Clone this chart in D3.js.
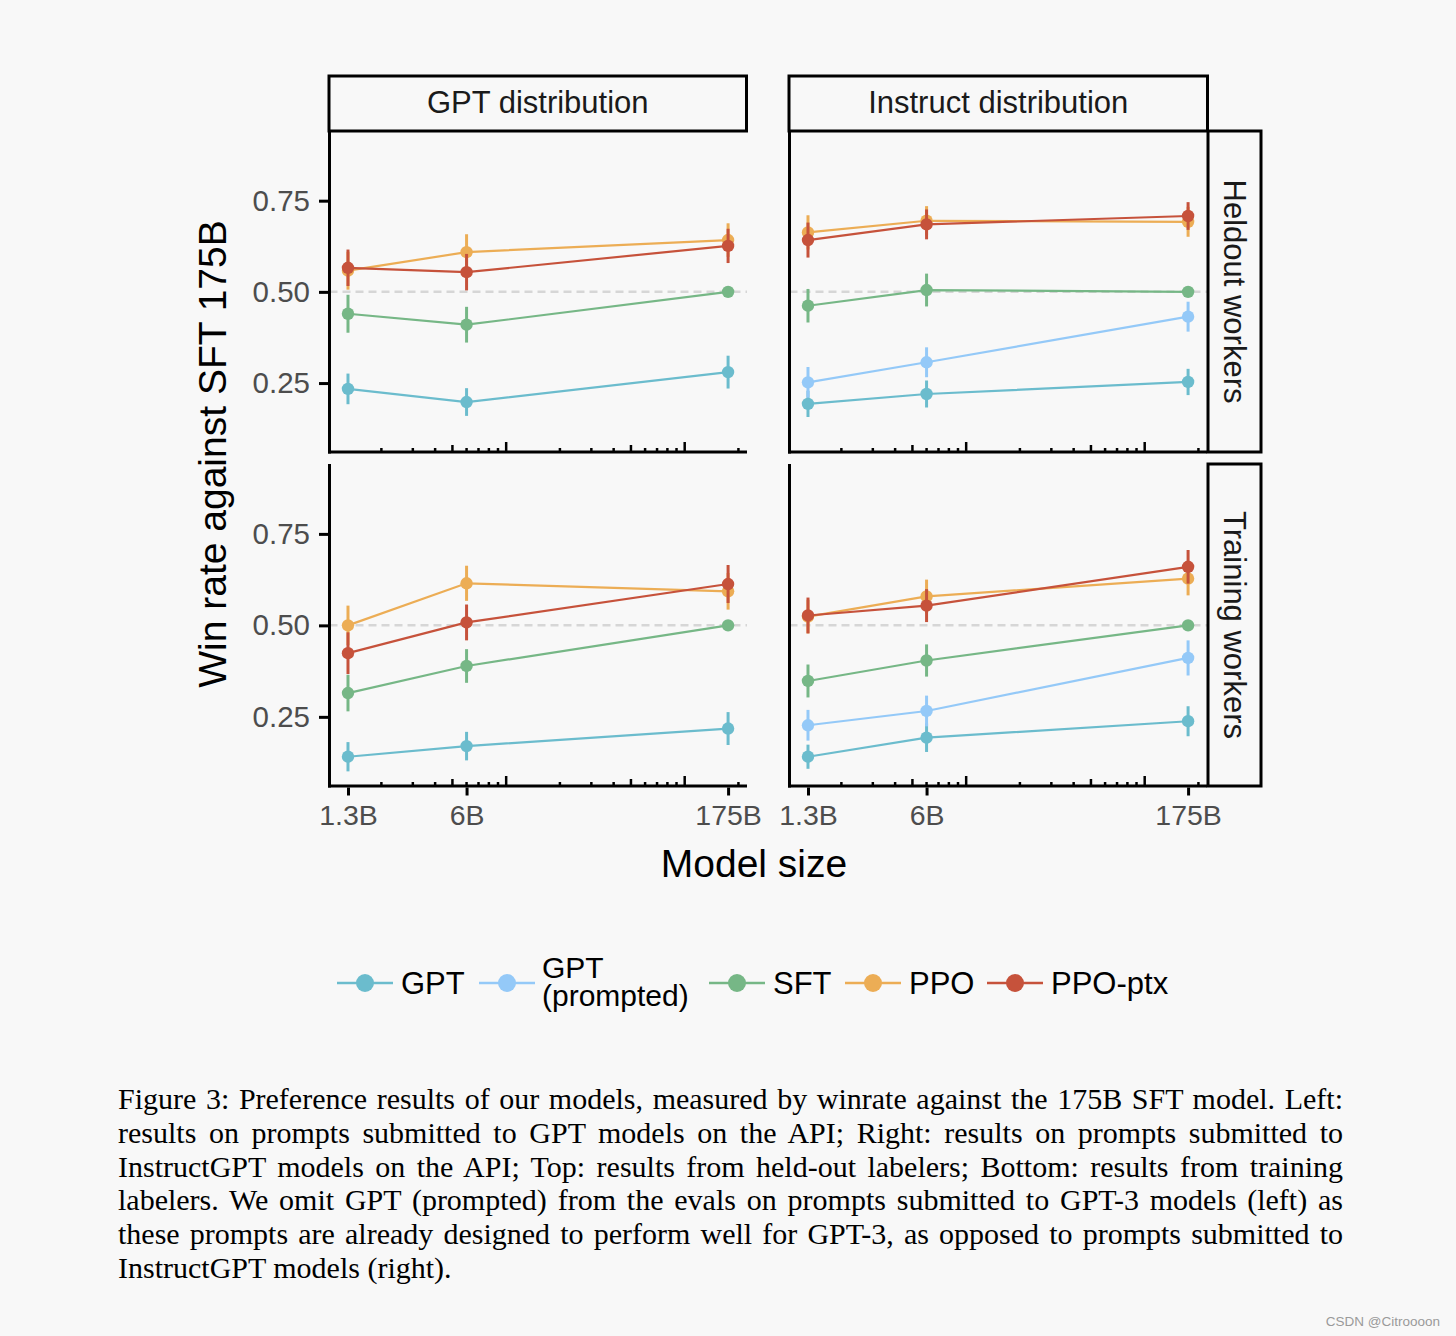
<!DOCTYPE html>
<html><head><meta charset="utf-8">
<script src="https://cdn.jsdelivr.net/npm/d3@7"></script>
<style>html,body{margin:0;padding:0;background:#f8f8f8;}svg{display:block;}</style>
</head><body>
<svg id="chart" width="1456" height="1336"></svg>
<script>
// ---------- data ----------
const sizes = [1.3e9, 6e9, 175e9];
const sizeLabels = ["1.3B", "6B", "175B"];
const models = ["GPT", "GPT (prompted)", "SFT", "PPO", "PPO-ptx"];
const columns = ["GPT distribution", "Instruct distribution"];
const rows = ["Heldout workers", "Training workers"];
const yTicks = [0.25, 0.5, 0.75];

// GPT distribution / Heldout workers
const gptHeld_GPT = [0.234, 0.198, 0.280], gptHeld_GPT_err = [0.042, 0.038, 0.045];
const gptHeld_SFT = [0.440, 0.410, 0.500], gptHeld_SFT_err = [0.052, 0.049, 0];
const gptHeld_PPO = [0.558, 0.609, 0.642], gptHeld_PPO_err = [0.052, 0.049, 0.046];
const gptHeld_PTX = [0.566, 0.554, 0.626], gptHeld_PTX_err = [0.050, 0.050, 0.047];
// Instruct distribution / Heldout workers
const insHeld_GPT = [0.193, 0.220, 0.253], insHeld_GPT_err = [0.036, 0.037, 0.036];
const insHeld_GPTP = [0.252, 0.307, 0.432], insHeld_GPTP_err = [0.042, 0.041, 0.041];
const insHeld_SFT = [0.462, 0.505, 0.500], insHeld_SFT_err = [0.046, 0.045, 0];
const insHeld_PPO = [0.663, 0.695, 0.692], insHeld_PPO_err = [0.047, 0.040, 0.041];
const insHeld_PTX = [0.642, 0.685, 0.708], insHeld_PTX_err = [0.048, 0.041, 0.038];
// GPT distribution / Training workers
const gptTrain_GPT = [0.141, 0.170, 0.218], gptTrain_GPT_err = [0.040, 0.039, 0.045];
const gptTrain_SFT = [0.315, 0.389, 0.500], gptTrain_SFT_err = [0.050, 0.046, 0];
const gptTrain_PPO = [0.500, 0.615, 0.593], gptTrain_PPO_err = [0.054, 0.048, 0.050];
const gptTrain_PTX = [0.424, 0.508, 0.613], gptTrain_PTX_err = [0.057, 0.049, 0.052];
// Instruct distribution / Training workers
const insTrain_GPT = [0.141, 0.193, 0.238], insTrain_GPT_err = [0.033, 0.039, 0.041];
const insTrain_GPTP = [0.227, 0.266, 0.411], insTrain_GPTP_err = [0.042, 0.042, 0.048];
const insTrain_SFT = [0.348, 0.404, 0.500], insTrain_SFT_err = [0.045, 0.044, 0];
const insTrain_PPO = [0.524, 0.579, 0.628], insTrain_PPO_err = [0.046, 0.046, 0.046];
const insTrain_PTX = [0.527, 0.554, 0.660], insTrain_PTX_err = [0.049, 0.045, 0.046];

const captionLines = [
  "Figure 3: Preference results of our models, measured by winrate against the 175B SFT model. Left:",
  "results on prompts submitted to GPT models on the API; Right:  results on prompts submitted to",
  "InstructGPT models on the API; Top: results from held-out labelers; Bottom: results from training",
  "labelers. We omit GPT (prompted) from the evals on prompts submitted to GPT-3 models (left) as",
  "these prompts are already designed to perform well for GPT-3, as opposed to prompts submitted to",
  "InstructGPT models (right)."
];

// ---------- styles ----------
const colors = {"GPT": "#6bbccd", "GPT (prompted)": "#94c9f8", "SFT": "#76b786", "PPO": "#ecad55", "PPO-ptx": "#c6523b"};
const sansFont = "'Liberation Sans', Arial, Helvetica, sans-serif";
const serifFont = "'Liberation Serif', 'Times New Roman', serif";

const panels = [
  {col: 0, row: 0, series: [["GPT", gptHeld_GPT, gptHeld_GPT_err], ["SFT", gptHeld_SFT, gptHeld_SFT_err], ["PPO", gptHeld_PPO, gptHeld_PPO_err], ["PPO-ptx", gptHeld_PTX, gptHeld_PTX_err]]},
  {col: 1, row: 0, series: [["GPT", insHeld_GPT, insHeld_GPT_err], ["GPT (prompted)", insHeld_GPTP, insHeld_GPTP_err], ["SFT", insHeld_SFT, insHeld_SFT_err], ["PPO", insHeld_PPO, insHeld_PPO_err], ["PPO-ptx", insHeld_PTX, insHeld_PTX_err]]},
  {col: 0, row: 1, series: [["GPT", gptTrain_GPT, gptTrain_GPT_err], ["SFT", gptTrain_SFT, gptTrain_SFT_err], ["PPO", gptTrain_PPO, gptTrain_PPO_err], ["PPO-ptx", gptTrain_PTX, gptTrain_PTX_err]]},
  {col: 1, row: 1, series: [["GPT", insTrain_GPT, insTrain_GPT_err], ["GPT (prompted)", insTrain_GPTP, insTrain_GPTP_err], ["SFT", insTrain_SFT, insTrain_SFT_err], ["PPO", insTrain_PPO, insTrain_PPO_err], ["PPO-ptx", insTrain_PTX, insTrain_PTX_err]]}
];

const svg = d3.select("#chart");
svg.append("rect").attr("width", 1456).attr("height", 1336).attr("fill", "#f8f8f8");

const colX = [329.5, 789.5], panelW = 417.5;
const rowY = [131, 464], panelH = [321, 322];
const xDomain = [Math.pow(10, 9.0104), Math.pow(10, 11.349)];
const yDomain = [0.061, 0.941];

panels.forEach(p => {
  const x0 = colX[p.col], y0 = rowY[p.row], h = panelH[p.row];
  const x = d3.scaleLog().domain(xDomain).range([x0, x0 + panelW]);
  const y = d3.scaleLinear().domain(yDomain).range([y0 + h, y0]);
  const g = svg.append("g");

  // reference line at 0.5
  g.append("line").attr("x1", x0).attr("x2", x0 + panelW).attr("y1", y(0.5)).attr("y2", y(0.5))
    .attr("stroke", "#d6d6d6").attr("stroke-width", 2.5).attr("stroke-dasharray", "8,5");

  // series
  const line = d3.line().x((d, i) => x(sizes[i])).y(d => y(d));
  p.series.forEach(([name, vals, errs]) => {
    const c = colors[name];
    g.append("path").attr("d", line(vals)).attr("fill", "none").attr("stroke", c).attr("stroke-width", 2.2);
    vals.forEach((v, i) => {
      if (errs[i] > 0) {
        g.append("line").attr("x1", x(sizes[i])).attr("x2", x(sizes[i]))
          .attr("y1", y(v - errs[i])).attr("y2", y(v + errs[i]))
          .attr("stroke", c).attr("stroke-width", 3);
      }
      g.append("circle").attr("cx", x(sizes[i])).attr("cy", y(v)).attr("r", 6.2).attr("fill", c);
    });
  });

  // axis lines
  g.append("line").attr("x1", x0).attr("x2", x0).attr("y1", y0).attr("y2", y0 + h + 1.5)
    .attr("stroke", "#000").attr("stroke-width", 3);
  g.append("line").attr("x1", x0 - 1.5).attr("x2", x0 + panelW).attr("y1", y0 + h).attr("y2", y0 + h)
    .attr("stroke", "#000").attr("stroke-width", 3);

  // log ticks (inside)
  const logTicks = [];
  for (let k = 9; k <= 11; k++) for (let m = 1; m <= 9; m++) {
    const v = m * Math.pow(10, k);
    if (v > xDomain[0] && v < xDomain[1]) logTicks.push({v, len: m === 1 ? 10 : (m === 5 ? 7 : 4)});
  }
  g.selectAll(".lt").data(logTicks).enter().append("line")
    .attr("x1", d => x(d.v)).attr("x2", d => x(d.v))
    .attr("y1", y0 + h).attr("y2", d => y0 + h - d.len)
    .attr("stroke", "#000").attr("stroke-width", 2.5);

  // y axis (left column only)
  if (p.col === 0) {
    const ya = g.append("g").attr("transform", `translate(${x0 - 1.5},0)`)
      .call(d3.axisLeft(y).tickValues(yTicks).tickFormat(d3.format(".2f")).tickSize(9).tickPadding(9));
    ya.select(".domain").remove();
    ya.selectAll(".tick line").attr("stroke", "#000").attr("stroke-width", 3);
    ya.selectAll(".tick text").attr("fill", "#4d4d4d").attr("font-family", sansFont).attr("font-size", "29.5px");
  }
  // x axis (bottom row only)
  if (p.row === 1) {
    const xa = g.append("g").attr("transform", `translate(0,${y0 + h + 1.5})`)
      .call(d3.axisBottom(x).tickValues(sizes).tickFormat((d, i) => sizeLabels[i]).tickSize(8).tickPadding(9));
    xa.select(".domain").remove();
    xa.selectAll(".tick line").attr("stroke", "#000").attr("stroke-width", 3);
    xa.selectAll(".tick text").attr("fill", "#4d4d4d").attr("font-family", sansFont).attr("font-size", "28.5px");
  }
});

// column strips
columns.forEach((name, i) => {
  const x0 = colX[i] - 0.5;
  const w = i === 0 ? panelW : panelW + 1;
  svg.append("rect").attr("x", x0).attr("y", 76).attr("width", w).attr("height", 55)
    .attr("fill", "none").attr("stroke", "#000").attr("stroke-width", 3);
  svg.append("text").attr("x", x0 + w / 2).attr("y", 113).attr("text-anchor", "middle")
    .attr("font-family", sansFont).attr("font-size", "31px").attr("fill", "#1a1a1a").text(name);
});
// row strips
rows.forEach((name, i) => {
  const y0 = rowY[i], h = panelH[i];
  svg.append("rect").attr("x", 1208).attr("y", y0).attr("width", 53).attr("height", h)
    .attr("fill", "none").attr("stroke", "#000").attr("stroke-width", 3);
  svg.append("text").attr("transform", `translate(1235,${y0 + h / 2}) rotate(90)`)
    .attr("text-anchor", "middle").attr("dy", "0.35em")
    .attr("font-family", sansFont).attr("font-size", "31px").attr("fill", "#1a1a1a").text(name);
});

// axis titles
svg.append("text").attr("transform", "translate(226,454) rotate(-90)").attr("text-anchor", "middle")
  .attr("font-family", sansFont).attr("font-size", "39px").attr("fill", "#000").text("Win rate against SFT 175B");
svg.append("text").attr("x", 754).attr("y", 877).attr("text-anchor", "middle")
  .attr("font-family", sansFont).attr("font-size", "39px").attr("fill", "#000").text("Model size");

// legend
const legendX = [337, 479, 709, 845, 987];
const legY = 983;
models.forEach((m, i) => {
  const lx = legendX[i];
  const lg = svg.append("g");
  lg.append("line").attr("x1", lx).attr("x2", lx + 56).attr("y1", legY).attr("y2", legY)
    .attr("stroke", colors[m]).attr("stroke-width", 2.5);
  lg.append("circle").attr("cx", lx + 28).attr("cy", legY).attr("r", 9).attr("fill", colors[m]);
  if (m === "GPT (prompted)") {
    lg.append("text").attr("x", lx + 63).attr("y", 978).attr("font-family", sansFont).attr("font-size", "30px").attr("fill", "#000").text("GPT");
    lg.append("text").attr("x", lx + 63).attr("y", 1006).attr("font-family", sansFont).attr("font-size", "30px").attr("fill", "#000").text("(prompted)");
  } else {
    lg.append("text").attr("x", lx + 64).attr("y", legY + 11).attr("font-family", sansFont).attr("font-size", "31px").attr("fill", "#000").text(m);
  }
});

// caption (justified lines)
const capLeft = 118, capRight = 1343;
captionLines.forEach((ln, i) => {
  const txt = ln.replace(/  +/g, " ");
  const t = svg.append("text").attr("x", capLeft).attr("y", 1109 + i * 33.8)
    .attr("font-family", serifFont).attr("font-size", "30px").attr("fill", "#000")
    .style("white-space", "pre").text(txt);
  if (i < captionLines.length - 1) {
    const w = t.node().getComputedTextLength();
    const n = (txt.match(/ /g) || []).length;
    if (n > 0) t.style("word-spacing", ((capRight - capLeft - w) / n) + "px");
  }
});

// watermark
svg.append("text").attr("x", 1440).attr("y", 1326).attr("text-anchor", "end")
  .attr("font-family", sansFont).attr("font-size", "13.5px").attr("fill", "#9a9a9a").text("CSDN @Citroooon");
</script>
</body></html>
